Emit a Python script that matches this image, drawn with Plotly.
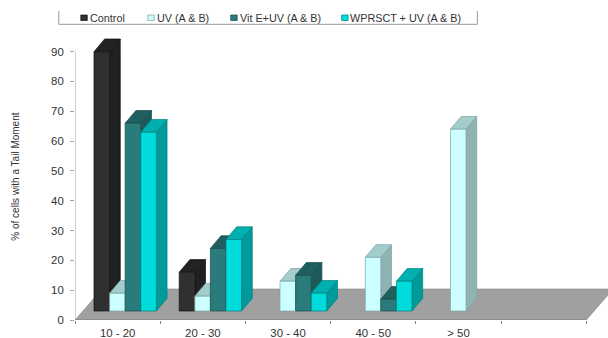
import plotly.graph_objects as go

WIDTH, HEIGHT = 608, 338
LEFT, RIGHT, TOP, BOTTOM = 74.7, 586.3, 51.7, 320.3
PLOT_TOP = 30

categories = ["10 - 20", "20 - 30", "30 - 40", "40 - 50", "> 50", ""]
series_names = ["Control", "UV (A & B)", "Vit E+UV (A & B)", "WPRSCT + UV (A & B)"]
control = [90, 16, 0, 0, 0, 0]
uv = [9, 8, 13, 21, 64, 0]
vit_e_uv = [66, 24, 15, 7, 0, 0]
wprsct_uv = [63, 27, 9, 13, 0, 0]
y_ticks = [0, 10, 20, 30, 40, 50, 60, 70, 80, 90]

# front, top, side, edge
palettes = [
    ("#303030", "#222222", "#202020", "#111111"),
    ("#CCFFFF", "#A3CCCC", "#8FB3B3", "#7FA0A0"),
    ("#2A7C7C", "#1F5F5F", "#1E5A5A", "#174848"),
    ("#00DCDC", "#00B0B0", "#009A9A", "#008080"),
]

x_unit = (RIGHT - LEFT) / 6
y_unit = (BOTTOM - TOP) / 90

# Axis ranges run past the labelled span so the oblique depth stays inside the plot area
x_max = 6 + (WIDTH - RIGHT) / x_unit
y_max = (BOTTOM - PLOT_TOP) / y_unit

# Oblique projection, in axis units
BAR_START = 19 / x_unit
BAR_WIDTH = 15.6 / x_unit
DEPTH_X = 10.7 / x_unit
DEPTH_Y = 12.7 / y_unit
BAR_BASE = 9 / y_unit
FLOOR_X = 27 / x_unit
FLOOR_Y = 31 / y_unit


def polygon(xs, ys, fill, edge, width=0.7):
    return go.Scatter(
        x=xs + xs[:1], y=ys + ys[:1], mode="lines", fill="toself", fillcolor=fill,
        line=dict(color=edge, width=width), hoverinfo="skip", showlegend=False,
    )


fig = go.Figure()

# Floor plane
fig.add_trace(polygon(
    [0, 6, 6 + FLOOR_X, FLOOR_X], [0, 0, FLOOR_Y, FLOOR_Y], "#A0A0A0", "#8A8A8A", 0.6,
))

# Bars drawn left to right so nearer faces cover the sides of earlier ones
for c in range(len(categories)):
    for s, values in enumerate([control, uv, vit_e_uv, wprsct_uv]):
        v = values[c]
        if v <= 0:
            continue
        front, top, side, edge = palettes[s]
        x0 = c + BAR_START + s * BAR_WIDTH
        x1 = x0 + BAR_WIDTH
        fig.add_trace(polygon(
            [x1, x1 + DEPTH_X, x1 + DEPTH_X, x1],
            [BAR_BASE, BAR_BASE + DEPTH_Y, v + DEPTH_Y, v], side, edge,
        ))
        fig.add_trace(polygon(
            [x0, x0 + DEPTH_X, x1 + DEPTH_X, x1],
            [v, v + DEPTH_Y, v + DEPTH_Y, v], top, edge,
        ))
        fig.add_trace(polygon(
            [x0, x1, x1, x0], [BAR_BASE, BAR_BASE, v, v], front, edge,
        ))


def paper_x(px):
    return (px - LEFT) / (WIDTH - LEFT)


def paper_y(py):
    return (BOTTOM - py) / (BOTTOM - PLOT_TOP)


annotations = [dict(
    text="% of cells with a Tail Moment", textangle=-90, x=paper_x(15), y=paper_y(176.5),
    xref="paper", yref="paper", xanchor="center", yanchor="middle", showarrow=False,
    font=dict(family="Liberation Sans", size=10, color="#333333"),
)]

# Axis lines stop at the labelled span
shapes = [
    dict(type="line", xref="x", yref="y", x0=0, x1=6, y0=0, y1=0,
         line=dict(color="#808080", width=1)),
    dict(type="line", xref="x", yref="y", x0=0, x1=0, y0=0, y1=90,
         line=dict(color="#A0A0A0", width=1)),
]

# Key strip along the top of the chart
shapes.append(dict(
    type="path", xref="paper", yref="paper",
    path=(f"M {paper_x(58.5)} {paper_y(11)} L {paper_x(58.5)} {paper_y(24.3)} "
          f"L {paper_x(477.3)} {paper_y(24.3)} L {paper_x(477.3)} {paper_y(11)}"),
    line=dict(color="#999999", width=1),
))
swatch_left = [80.5, 147.5, 230.5, 341.5]
for name, px, palette in zip(series_names, swatch_left, palettes):
    shapes.append(dict(
        type="rect", xref="paper", yref="paper",
        x0=paper_x(px), x1=paper_x(px + 6.5), y0=paper_y(15), y1=paper_y(20.5),
        fillcolor=palette[0], line=dict(color=palette[3], width=0.7),
    ))
    annotations.append(dict(
        text=name, x=paper_x(px + 6.8), y=paper_y(18.3), xref="paper", yref="paper",
        xanchor="left", yanchor="middle", showarrow=False,
        font=dict(family="Liberation Sans", size=10.8, color="#333333"),
    ))

fig.update_layout(
    width=WIDTH, height=HEIGHT, autosize=False,
    margin=dict(l=LEFT, r=0, t=PLOT_TOP, b=HEIGHT - BOTTOM),
    paper_bgcolor="white", plot_bgcolor="rgba(0,0,0,0)", showlegend=False,
    font=dict(family="Liberation Sans", size=11.4, color="#333333"),
    annotations=annotations, shapes=shapes,
    xaxis=dict(
        range=[0, x_max], automargin=False, showgrid=False, zeroline=False, showline=False,
        tickmode="array", tickvals=[i + 0.5 for i in range(len(categories))],
        ticktext=categories, ticks="", ticklabelstandoff=5,
        minor=dict(tickmode="array", tickvals=list(range(len(categories) + 1)),
                   ticks="outside", ticklen=3, tickcolor="#808080", tickwidth=1),
    ),
    yaxis=dict(
        range=[0, y_max], automargin=False, showgrid=False, zeroline=False, showline=False,
        tickmode="array", tickvals=y_ticks, ticks="outside", ticklen=4,
        tickcolor="#A0A0A0", tickwidth=1, ticklabelstandoff=4,
    ),
)

fig.write_html("out.html")
